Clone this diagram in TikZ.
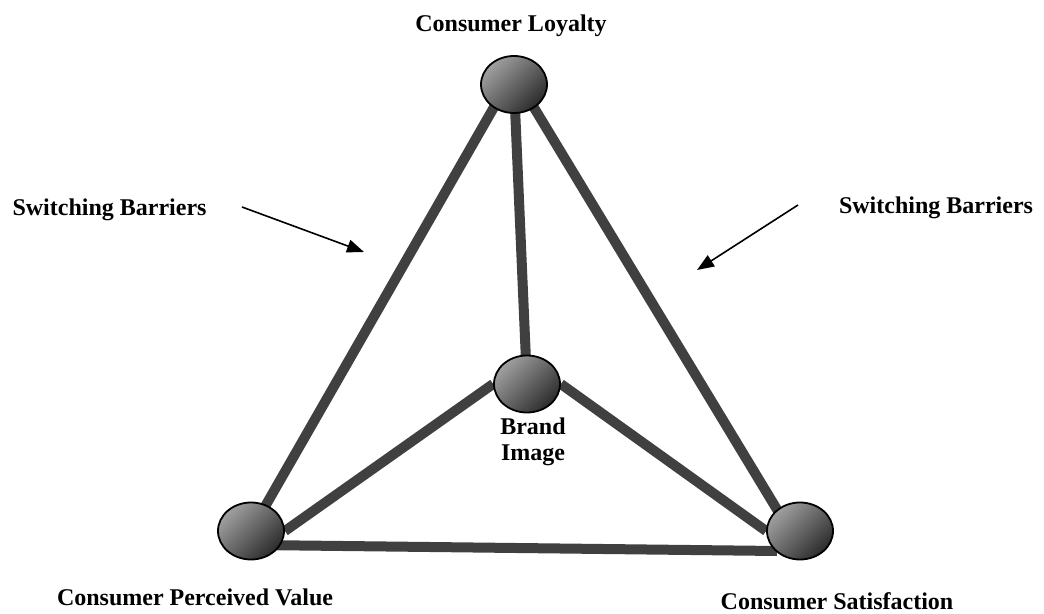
\documentclass[tikz,border=0pt]{standalone}
\usepackage{fontspec}
\setmainfont{Liberation Serif}
\usetikzlibrary{arrows.meta,calc,shapes.geometric}
\pgfdeclarelayer{background}
\pgfsetlayers{background,main}
\definecolor{edgegray}{HTML}{404040}
\definecolor{balllight}{HTML}{A0A0A0}
\definecolor{balldark}{HTML}{2C2C2C}
\tikzset{
  ball/.style={ellipse, draw=black, line width=0.9pt, minimum width=33pt, minimum height=28.5pt, inner sep=0pt,
    top color=balllight, bottom color=balldark, shading angle=45},
  edge/.style={draw=edgegray, line width=5pt},
  lbl/.style={font=\bfseries\fontsize{12}{13}\selectfont, inner sep=0pt},
  pointer/.style={draw=black, line width=0.8pt, -{Triangle[length=8.5pt,width=6.5pt]}}
}
\begin{document}
\begin{tikzpicture}[x=0.5pt,y=-0.5pt]
\useasboundingbox (0,0) rectangle (1044,614);
% nodes
\node[ball] (top) at (514,84.5) {};
\node[ball] (brand) at (527,384) {};
\node[ball] (bl) at (251,531) {};
\node[ball] (br) at (800,531) {};
% connectors behind the nodes
\begin{pgfonlayer}{background}
\draw[edge] ($(top.center)+(-7,0)$) -- (bl.center);
\draw[edge] ($(top.center)+(6,0)$) -- ($(br.center)+(-10,0)$);
\draw[edge] (top.center) -- (brand.center);
\draw[edge] (brand.west) -- (bl.east);
\draw[edge] (brand.east) -- (br.west);
\draw[edge] ($(bl.center)+(5,14)$) -- ($(br.center)+(-23,20)$);
\end{pgfonlayer}
% labels
\node[lbl, anchor=base] (tl) at (511,32) {Consumer Loyalty};
\node[lbl, anchor=north, align=center] (bi) at (533,417.5) {Brand\\Image};
\node[lbl, anchor=base] (cpv) at (195,605) {Consumer Perceived Value};
\node[lbl, anchor=base] (cs) at (837,609) {Consumer Satisfaction};
\node[lbl, anchor=base] (sbl) at (109.5,216) {Switching Barriers};
\node[lbl, anchor=base] (sbr) at (936,214) {Switching Barriers};
% arrows
\coordinate (a1s) at (242,207);
\coordinate (a1e) at (364,252);
\coordinate (a2s) at (798,205);
\coordinate (a2e) at (697,270);
\draw[pointer] (a1s) -- (a1e);
\draw[pointer] (a2s) -- (a2e);
\end{tikzpicture}
\end{document}
